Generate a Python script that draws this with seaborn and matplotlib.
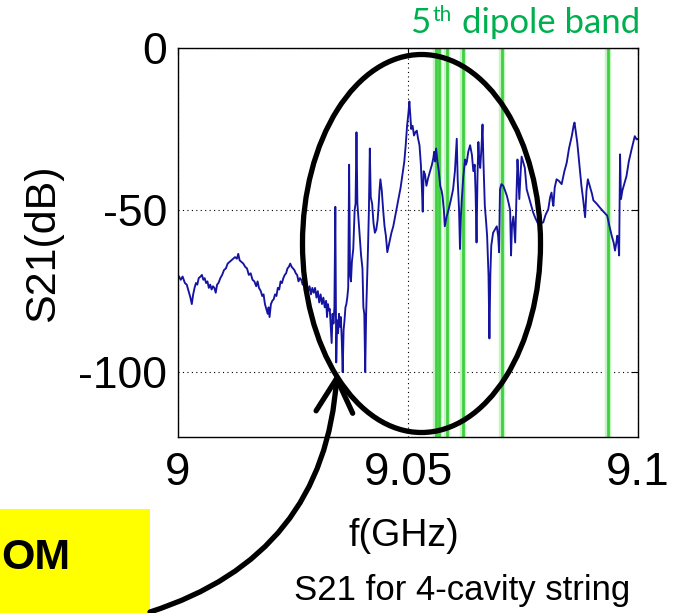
import numpy as np
import pandas as pd
import matplotlib
matplotlib.use("Agg")
import matplotlib.pyplot as plt
from matplotlib import font_manager
from matplotlib.patches import Ellipse, FancyArrowPatch, Rectangle
import seaborn as sns

# Measured transmission S21 of the 4-cavity string
freq_ghz = [
    9.0000, 9.0006, 9.0010, 9.0015, 9.0019, 9.0023, 9.0027, 9.0030, 9.0033, 9.0036,
    9.0039, 9.0042, 9.0045, 9.0049, 9.0052, 9.0055, 9.0058, 9.0061, 9.0064, 9.0067,
    9.0070, 9.0073, 9.0076, 9.0079, 9.0082, 9.0085, 9.0088, 9.0092, 9.0096, 9.0100,
    9.0104, 9.0108, 9.0112, 9.0116, 9.0120, 9.0124, 9.0128, 9.0131, 9.0134, 9.0138,
    9.0142, 9.0146, 9.0150, 9.0154, 9.0158, 9.0162, 9.0166, 9.0170, 9.0173, 9.0176,
    9.0180, 9.0183, 9.0186, 9.0189, 9.0192, 9.0195, 9.0197, 9.0199, 9.0202, 9.0205,
    9.0208, 9.0211, 9.0214, 9.0217, 9.0220, 9.0223, 9.0226, 9.0229, 9.0232, 9.0235,
    9.0238, 9.0241, 9.0244, 9.0247, 9.0250, 9.0253, 9.0256, 9.0259, 9.0262, 9.0265,
    9.0268, 9.0271, 9.0274, 9.0277, 9.0280, 9.0283, 9.0286, 9.0289, 9.0292, 9.0295,
    9.0298, 9.0301, 9.0304, 9.0307, 9.0310, 9.0313, 9.0316, 9.0319, 9.0322, 9.0324,
    9.0326, 9.0328, 9.0330, 9.0332, 9.0334, 9.0336, 9.0338, 9.0340, 9.0342, 9.0344,
    9.0346, 9.0348, 9.0350, 9.0352, 9.0354, 9.0356, 9.0358, 9.0360, 9.0362, 9.0364,
    9.0366, 9.0368, 9.0370, 9.0372, 9.0374, 9.0376, 9.0378, 9.0381, 9.0384, 9.0386,
    9.0388, 9.0390, 9.0392, 9.0395, 9.0398, 9.0401, 9.0403, 9.0405, 9.0407, 9.0409,
    9.0411, 9.0413, 9.0415, 9.0417, 9.0419, 9.0422, 9.0425, 9.0428, 9.0431, 9.0434,
    9.0436, 9.0438, 9.0440, 9.0443, 9.0446, 9.0449, 9.0452, 9.0455, 9.0458, 9.0461,
    9.0464, 9.0468, 9.0472, 9.0476, 9.0480, 9.0484, 9.0488, 9.0492, 9.0495, 9.0498,
    9.0501, 9.0503, 9.0505, 9.0507, 9.0510, 9.0513, 9.0516, 9.0519, 9.0522, 9.0525,
    9.0528, 9.0530, 9.0532, 9.0534, 9.0537, 9.0540, 9.0544, 9.0548, 9.0552, 9.0555,
    9.0557, 9.0559, 9.0561, 9.0564, 9.0567, 9.0570, 9.0573, 9.0575, 9.0578, 9.0580,
    9.0584, 9.0588, 9.0593, 9.0598, 9.0602, 9.0606, 9.0608, 9.0611, 9.0613, 9.0615,
    9.0617, 9.0620, 9.0624, 9.0626, 9.0628, 9.0631, 9.0635, 9.0639, 9.0642, 9.0645,
    9.0647, 9.0649, 9.0651, 9.0653, 9.0655, 9.0657, 9.0660, 9.0662, 9.0664, 9.0667,
    9.0670, 9.0672, 9.0675, 9.0677, 9.0679, 9.0681, 9.0685, 9.0689, 9.0693, 9.0696,
    9.0698, 9.0700, 9.0703, 9.0707, 9.0711, 9.0715, 9.0719, 9.0722, 9.0724, 9.0726,
    9.0729, 9.0731, 9.0733, 9.0736, 9.0738, 9.0740, 9.0742, 9.0745, 9.0747, 9.0750,
    9.0754, 9.0758, 9.0762, 9.0767, 9.0772, 9.0777, 9.0783, 9.0789, 9.0794, 9.0799,
    9.0805, 9.0809, 9.0812, 9.0814, 9.0816, 9.0819, 9.0823, 9.0828, 9.0834, 9.0840,
    9.0845, 9.0850, 9.0856, 9.0860, 9.0862, 9.0865, 9.0868, 9.0872, 9.0877, 9.0881,
    9.0885, 9.0888, 9.0891, 9.0894, 9.0896, 9.0900, 9.0903, 9.0910, 9.0917, 9.0925,
    9.0933, 9.0938, 9.0943, 9.0947, 9.0950, 9.0953, 9.0955, 9.0957, 9.0959, 9.0961,
    9.0963, 9.0966, 9.0970, 9.0975, 9.0980, 9.0986, 9.0990, 9.0993, 9.0997, 9.1000,
]
s21_db = [
    -70.0, -71.5, -70.5, -72.5, -73.0, -75.0, -77.0, -79.0, -76.0, -74.0,
    -72.5, -73.0, -71.0, -70.5, -70.0, -71.5, -71.0, -72.5, -72.0, -74.0,
    -73.0, -74.5, -73.5, -74.0, -75.5, -73.0, -72.5, -71.0, -70.0, -68.5,
    -68.0, -66.5, -66.0, -65.5, -65.0, -64.5, -65.0, -63.5, -65.5, -66.0,
    -66.5, -67.5, -68.0, -70.0, -69.5, -71.5, -72.0, -73.5, -72.0, -74.0,
    -75.0, -76.5, -76.0, -79.0, -80.5, -82.0, -80.0, -83.0, -79.0, -78.0,
    -77.5, -76.0, -76.5, -74.0, -74.5, -72.0, -72.5, -71.0, -70.0, -69.5,
    -68.0, -67.5, -66.5, -67.5, -68.0, -68.5, -69.5, -70.0, -72.0, -71.0,
    -71.5, -73.0, -72.0, -74.0, -73.0, -75.0, -73.5, -76.0, -74.0, -75.5,
    -74.0, -77.0, -75.0, -78.5, -76.0, -79.0, -77.0, -80.0, -78.0, -83.0,
    -79.0, -81.0, -80.5, -86.0, -91.0, -82.0, -85.0, -80.0, -49.0, -97.0,
    -84.0, -88.0, -82.0, -86.0, -83.0, -90.0, -100.0, -87.0, -84.0, -80.0,
    -79.0, -77.0, -74.0, -36.0, -70.0, -72.0, -66.0, -62.0, -50.0, -48.0,
    -26.0, -48.0, -52.0, -58.0, -64.0, -68.0, -80.0, -82.0, -100.0, -82.0,
    -72.0, -62.0, -50.0, -31.0, -46.0, -48.0, -54.0, -57.0, -56.0, -53.0,
    -49.0, -44.0, -40.5, -44.0, -50.0, -55.0, -58.0, -63.0, -61.0, -59.0,
    -57.0, -55.0, -52.0, -49.0, -46.0, -43.0, -39.0, -35.0, -30.0, -24.0,
    -20.0, -16.5, -21.0, -25.0, -24.0, -27.0, -26.0, -25.5, -28.0, -30.0,
    -36.0, -42.5, -50.5, -38.0, -39.0, -42.5, -40.0, -38.0, -36.0, -34.0,
    -32.0, -35.0, -31.0, -35.0, -38.0, -42.5, -44.0, -45.6, -50.0, -55.0,
    -52.0, -50.0, -47.0, -43.6, -38.0, -28.0, -40.5, -50.0, -62.0, -52.0,
    -46.6, -40.0, -34.4, -36.0, -35.0, -32.0, -30.0, -33.0, -38.0, -36.0,
    -45.0, -60.0, -40.0, -29.0, -35.0, -37.0, -30.0, -23.6, -35.0, -48.7,
    -54.0, -58.0, -70.0, -89.6, -70.0, -61.0, -57.0, -56.0, -55.0, -58.0,
    -63.0, -43.6, -42.0, -42.5, -44.0, -45.6, -48.0, -50.0, -64.0, -55.0,
    -52.0, -56.0, -60.0, -45.0, -34.4, -40.0, -46.6, -38.0, -33.5, -35.0,
    -37.0, -43.6, -45.6, -48.0, -50.7, -52.5, -54.3, -54.0, -53.8, -51.5,
    -49.7, -46.0, -44.6, -47.0, -48.7, -43.0, -40.5, -41.0, -42.0, -38.0,
    -35.4, -31.0, -27.2, -24.0, -23.0, -26.0, -29.2, -35.0, -42.5, -47.0,
    -52.2, -44.0, -40.5, -42.0, -43.0, -45.0, -47.0, -48.0, -49.2, -50.5,
    -51.7, -55.0, -58.0, -60.0, -62.5, -60.0, -57.9, -60.0, -64.0, -32.8,
    -46.6, -44.0, -42.0, -39.5, -35.0, -31.3, -29.0, -27.2, -28.2, -28.0,
]

# Simulated 5th dipole band mode frequencies
mode_freqs_ghz = [9.0561, 9.0568, 9.0584, 9.0620, 9.0704, 9.0934]

x_ticks = [9.0, 9.05, 9.1]
x_tick_labels = ["9", "9.05", "9.1"]
y_ticks = [0, -50, -100]
y_tick_labels = ["0", "-50", "-100"]

sns.set_style("white")
installed = {f.name for f in font_manager.fontManager.ttflist}
has_narrow = "Liberation Sans Narrow" in installed
tick_font = "Liberation Sans Narrow" if has_narrow else "Liberation Sans"
plt.rcParams["font.family"] = ["Liberation Sans", "DejaVu Sans"]
plt.rcParams["axes.unicode_minus"] = False

if has_narrow:
    ytick_size, xtick_size, xlab_size, cap_size = 37, 38, 32, 30
else:
    ytick_size, xtick_size, xlab_size, cap_size = 32, 33, 27, 25

W, H = 678, 613
fig = plt.figure(figsize=(W / 100, H / 100), dpi=100)
fig.patch.set_facecolor("white")


def fx(px):
    return px / W


def fy(py):
    return 1 - py / H


ax = fig.add_axes([fx(178), fy(437), (638 - 178) / W, (437 - 48) / H])
ax.set_facecolor("white")

for f in mode_freqs_ghz:
    ax.axvline(f, color="#c4f4c4", lw=4.6, zorder=1)
    ax.axvline(f, color="#3fcf3f", lw=2.0, zorder=1.1)

df = pd.DataFrame({"f": freq_ghz, "S21": s21_db})
sns.lineplot(data=df, x="f", y="S21", ax=ax, sort=False, estimator=None,
             color="#1414a0", lw=1.35, zorder=2)

ax.set_xlim(9.0, 9.1)
ax.set_ylim(-120, 0)
ax.set_xticks(x_ticks)
ax.set_xticklabels(x_tick_labels, fontsize=xtick_size, family=tick_font)
ax.set_yticks(y_ticks)
ax.set_yticklabels(y_tick_labels, fontsize=ytick_size, family=tick_font)
ax.tick_params(direction="in", length=5, width=0.8, color="black",
               top=True, right=True, labelcolor="black")
ax.tick_params(axis="y", pad=8)
ax.tick_params(axis="x", pad=10)
ax.grid(True, linestyle=(0, (1, 3)), color="black", lw=0.8)
for sp in ax.spines.values():
    sp.set_visible(True)
    sp.set_color("black")
    sp.set_linewidth(1.0)

ax.set_ylabel("S21(dB)", fontsize=31, color="black", va="center")
ax.yaxis.set_label_coords((43 - 178) / 460, (437 - 243) / 389)
ax.set_xlabel("f(GHz)", fontsize=xlab_size, family=tick_font, color="black",
              va="baseline")
ax.xaxis.set_label_coords((403.5 - 178) / 460, (437 - 546) / 389)

fig.text(fx(462), fy(600), "S21 for 4-cavity string", fontsize=cap_size,
         family=tick_font, ha="center", va="baseline", color="black")

# band title
green = "#00b050"
fig.text(fx(410), fy(33), "5", fontsize=25, family="Lato", color=green,
         ha="left", va="baseline")
fig.text(fx(433), fy(21), "th", fontsize=15, family="Lato", color=green,
         ha="left", va="baseline")
fig.text(fx(462), fy(33), "dipole band", fontsize=25, family="Lato",
         color=green, ha="left", va="baseline")

# highlighted box in the lower left
fig.add_artist(Rectangle((0, 0), 150 / W, (613 - 509) / H, transform=fig.transFigure,
                         facecolor="#ffff00", edgecolor="none", zorder=5))
fig.text(fx(1), fy(569), "OM", fontsize=31, family=tick_font,
         fontweight="bold", color="black", ha="left", va="baseline", zorder=6)

# ring around the resonance region and pointer
fig.add_artist(Ellipse((fx(421.5), fy(243.5)), 238 / W, 378 / H,
                       transform=fig.transFigure, fill=False, ec="black",
                       lw=3.8, zorder=10))
fig.add_artist(FancyArrowPatch((fx(150), fy(612)), (fx(337), fy(373)),
                               transform=fig.transFigure,
                               connectionstyle="arc3,rad=0.34",
                               arrowstyle="->,head_length=1.1,head_width=0.6",
                               mutation_scale=22, lw=3.8, color="black",
                               shrinkA=0, shrinkB=0, zorder=10))

fig.savefig("out.png", dpi=100, facecolor="white")
